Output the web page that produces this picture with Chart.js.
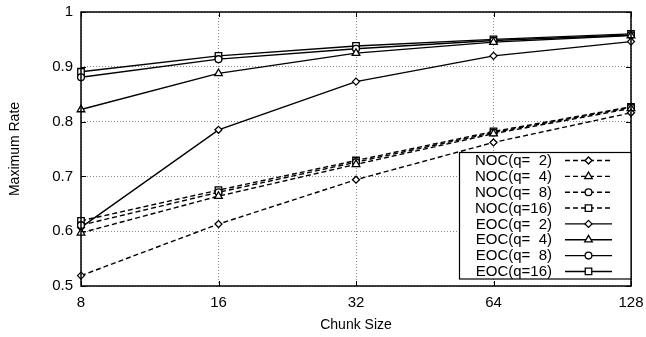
<!DOCTYPE html>
<html>
<head>
<meta charset="utf-8">
<script src="https://cdn.jsdelivr.net/npm/chart.js@4/dist/chart.umd.min.js"></script>
<style>
html,body{margin:0;padding:0;background:#fff;}
#wrap{width:646px;height:337px;position:relative;}
</style>
</head>
<body>
<div id="wrap"><canvas id="c" width="646" height="337"></canvas></div>
<script>
const chunkSizes = ['8', '16', '32', '64', '128'];
const yTicks = [0.5, 0.6, 0.7, 0.8, 0.9, 1];
const seriesLabels = ['NOC(q=  2)', 'NOC(q=  4)', 'NOC(q=  8)', 'NOC(q=16)', 'EOC(q=  2)', 'EOC(q=  4)', 'EOC(q=  8)', 'EOC(q=16)'];
const nocQ2 = [0.519, 0.613, 0.694, 0.762, 0.816];
const nocQ4 = [0.597, 0.664, 0.722, 0.778, 0.824];
const nocQ8 = [0.611, 0.671, 0.726, 0.780, 0.826];
const nocQ16 = [0.619, 0.675, 0.729, 0.782, 0.827];
const eocQ2 = [0.607, 0.785, 0.873, 0.920, 0.946];
const eocQ4 = [0.822, 0.888, 0.925, 0.945, 0.957];
const eocQ8 = [0.881, 0.914, 0.933, 0.948, 0.958];
const eocQ16 = [0.891, 0.920, 0.938, 0.950, 0.960];

const seriesData = [nocQ2, nocQ4, nocQ8, nocQ16, eocQ2, eocQ4, eocQ8, eocQ16];
const markers = ['rectRot', 'triangle', 'circle', 'rect', 'rectRot', 'triangle', 'circle', 'rect'];
const radii = {rectRot: 3.5, triangle: 4.4, circle: 3.4, rect: 4.6};
const FONT = "'Liberation Sans', Arial, sans-serif";

const datasets = seriesData.map((d, i) => ({
  label: seriesLabels[i],
  data: d,
  borderColor: '#000',
  borderWidth: 1.4,
  borderDash: i < 4 ? [5, 3] : [],
  pointStyle: markers[i],
  pointRadius: radii[markers[i]],
  pointBorderWidth: 1.3,
  pointBorderColor: '#000',
  pointBackgroundColor: '#fff',
  fill: false,
  tension: 0
}));

function drawMarker(ctx, style, x, y, r) {
  ctx.beginPath();
  if (style === 'circle') {
    ctx.arc(x, y, r, 0, Math.PI * 2);
  } else if (style === 'rect') {
    const s = r * Math.SQRT1_2;
    ctx.rect(x - s, y - s, 2 * s, 2 * s);
  } else if (style === 'rectRot') {
    ctx.moveTo(x, y - r); ctx.lineTo(x + r, y); ctx.lineTo(x, y + r); ctx.lineTo(x - r, y); ctx.closePath();
  } else if (style === 'triangle') {
    const a = Math.PI * 2 / 3;
    ctx.moveTo(x, y - r);
    ctx.lineTo(x + Math.sin(a) * r, y - Math.cos(a) * r);
    ctx.lineTo(x + Math.sin(2 * a) * r, y - Math.cos(2 * a) * r);
    ctx.closePath();
  }
  ctx.fillStyle = '#fff';
  ctx.fill();
  ctx.setLineDash([]);
  ctx.lineWidth = 1.3;
  ctx.strokeStyle = '#000';
  ctx.stroke();
}

const framePlugin = {
  id: 'frame',
  afterDatasetsDraw(chart) {
    const ctx = chart.ctx;
    const a = chart.chartArea;
    const xs = chart.scales.x, ys = chart.scales.y;
    ctx.save();
    // inward ticks
    ctx.strokeStyle = '#000';
    ctx.lineWidth = 1;
    ctx.setLineDash([]);
    ctx.beginPath();
    chunkSizes.forEach((c, i) => {
      const px = Math.round(xs.getPixelForValue(i)) + 0.5;
      ctx.moveTo(px, a.bottom); ctx.lineTo(px, a.bottom - 5);
      ctx.moveTo(px, a.top); ctx.lineTo(px, a.top + 5);
    });
    yTicks.forEach(v => {
      const py = Math.round(ys.getPixelForValue(v)) + 0.5;
      ctx.moveTo(a.left, py); ctx.lineTo(a.left + 5, py);
      ctx.moveTo(a.right, py); ctx.lineTo(a.right - 5, py);
    });
    ctx.stroke();
    // border
    ctx.lineWidth = 1.5;
    ctx.strokeRect(a.left, a.top, a.right - a.left, a.bottom - a.top);

    // legend
    const boxL = 459, boxT = 152, boxR = a.right, boxB = 279;
    ctx.fillStyle = '#fff';
    ctx.fillRect(boxL, boxT, boxR - boxL, boxB - boxT);
    ctx.lineWidth = 1.2;
    ctx.strokeStyle = '#000';
    ctx.strokeRect(boxL + 0.5, boxT + 0.5, boxR - boxL - 0.5, boxB - boxT - 0.5);
    const rowH = 15.85;
    const textRight = 552, lineL = 565, lineR = 612;
    ctx.font = "15px " + FONT;
    ctx.textAlign = 'right';
    ctx.textBaseline = 'middle';
    chart.data.datasets.forEach((ds, i) => {
      const cy = boxT + 8.5 + i * rowH;
      ctx.fillStyle = '#000';
      ctx.fillText(ds.label, textRight, cy + 0.5);
      ctx.beginPath();
      ctx.setLineDash(ds.borderDash);
      ctx.lineWidth = 1.4;
      ctx.moveTo(lineL, cy); ctx.lineTo(lineR, cy);
      ctx.stroke();
      drawMarker(ctx, ds.pointStyle, (lineL + lineR) / 2, cy, ds.pointRadius);
    });
    ctx.restore();
  }
};

new Chart(document.getElementById('c'), {
  type: 'line',
  data: { labels: chunkSizes, datasets: datasets },
  options: {
    responsive: false,
    animation: false,
    devicePixelRatio: 1,
    layout: { padding: { left: 0, right: 15, top: 12, bottom: 0 } },
    plugins: { legend: { display: false }, tooltip: { enabled: false } },
    scales: {
      x: {
        type: 'category',
        offset: false,
        grid: { color: '#888', lineWidth: 1, drawTicks: false },
        border: { display: false, dash: [1, 2] },
        ticks: { color: '#000', font: { family: FONT, size: 15 }, padding: 8, maxRotation: 0 },
        title: { display: true, text: 'Chunk Size', color: '#000', font: { family: FONT, size: 14 }, padding: { top: 4, bottom: 3 } },
        afterFit(s) { s.height = 51; s.paddingLeft = 0; s.paddingRight = 0; }
      },
      y: {
        min: 0.5, max: 1,
        grid: { color: '#888', lineWidth: 1, drawTicks: false },
        border: { display: false, dash: [1, 2] },
        afterBuildTicks(s) { s.ticks = yTicks.map(v => ({ value: v })); },
        ticks: { color: '#000', font: { family: FONT, size: 15 }, padding: 8,
          callback: v => String(v) },
        title: { display: true, text: 'Maximum Rate', color: '#000', font: { family: FONT, size: 14 }, padding: { top: 7, bottom: 4 } },
        afterFit(s) { s.width = 81; s.paddingTop = 0; s.paddingBottom = 0; }
      }
    }
  },
  plugins: [framePlugin]
});
</script>
</body>
</html>
